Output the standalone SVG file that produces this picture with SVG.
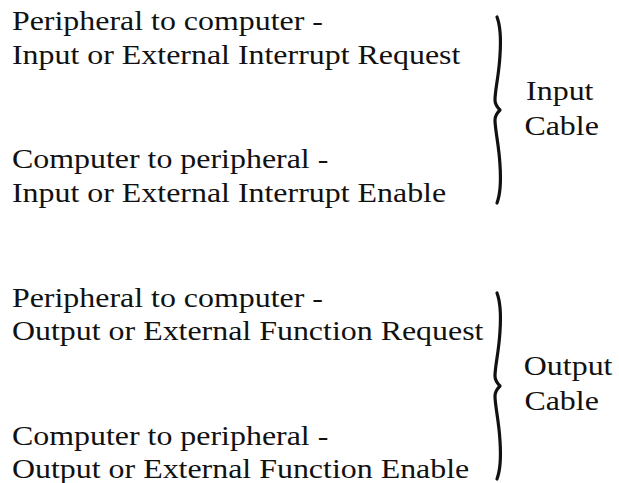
<svg xmlns="http://www.w3.org/2000/svg" width="619" height="483" viewBox="0 0 619 483">
<style>
text{font-family:"Liberation Serif","Times New Roman",serif;font-size:28px;fill:#111}
.brace{fill:none;stroke:#111;stroke-width:3.2;stroke-linecap:round;stroke-linejoin:round}
</style>
<defs>
<path id="brace" class="brace" d="M497,17 C500,25 501,40 500,55 C499,75 495,90 495,100 C495,104 497,107 500,110 C497,113 495,116 495,120 C495,130 499,145 500,165 C501,180 500,195 497,203"/>
</defs>
<rect width="619" height="483" fill="#fff"/>
<g id="input-lines" transform="scale(1.14 1)">
<text x="10.5" y="30">Peripheral to computer -</text>
<text x="10.5" y="64">Input or External Interrupt Request</text>
<text x="10.5" y="168">Computer to peripheral -</text>
<text x="10.5" y="202">Input or External Interrupt Enable</text>
</g>
<g id="input-cable">
<use href="#brace"/>
<g transform="scale(1.14 1)">
<text x="461.5" y="100">Input</text>
<text x="460" y="135">Cable</text>
</g>
</g>
<g id="output-lines" transform="scale(1.14 1)">
<text x="10.5" y="307">Peripheral to computer -</text>
<text x="10.5" y="340">Output or External Function Request</text>
<text x="10.5" y="445">Computer to peripheral -</text>
<text x="10.5" y="478">Output or External Function Enable</text>
</g>
<g id="output-cable">
<use href="#brace" transform="translate(0 276)"/>
<g transform="scale(1.14 1)">
<text x="459.5" y="375">Output</text>
<text x="460" y="410">Cable</text>
</g>
</g>
</svg>
